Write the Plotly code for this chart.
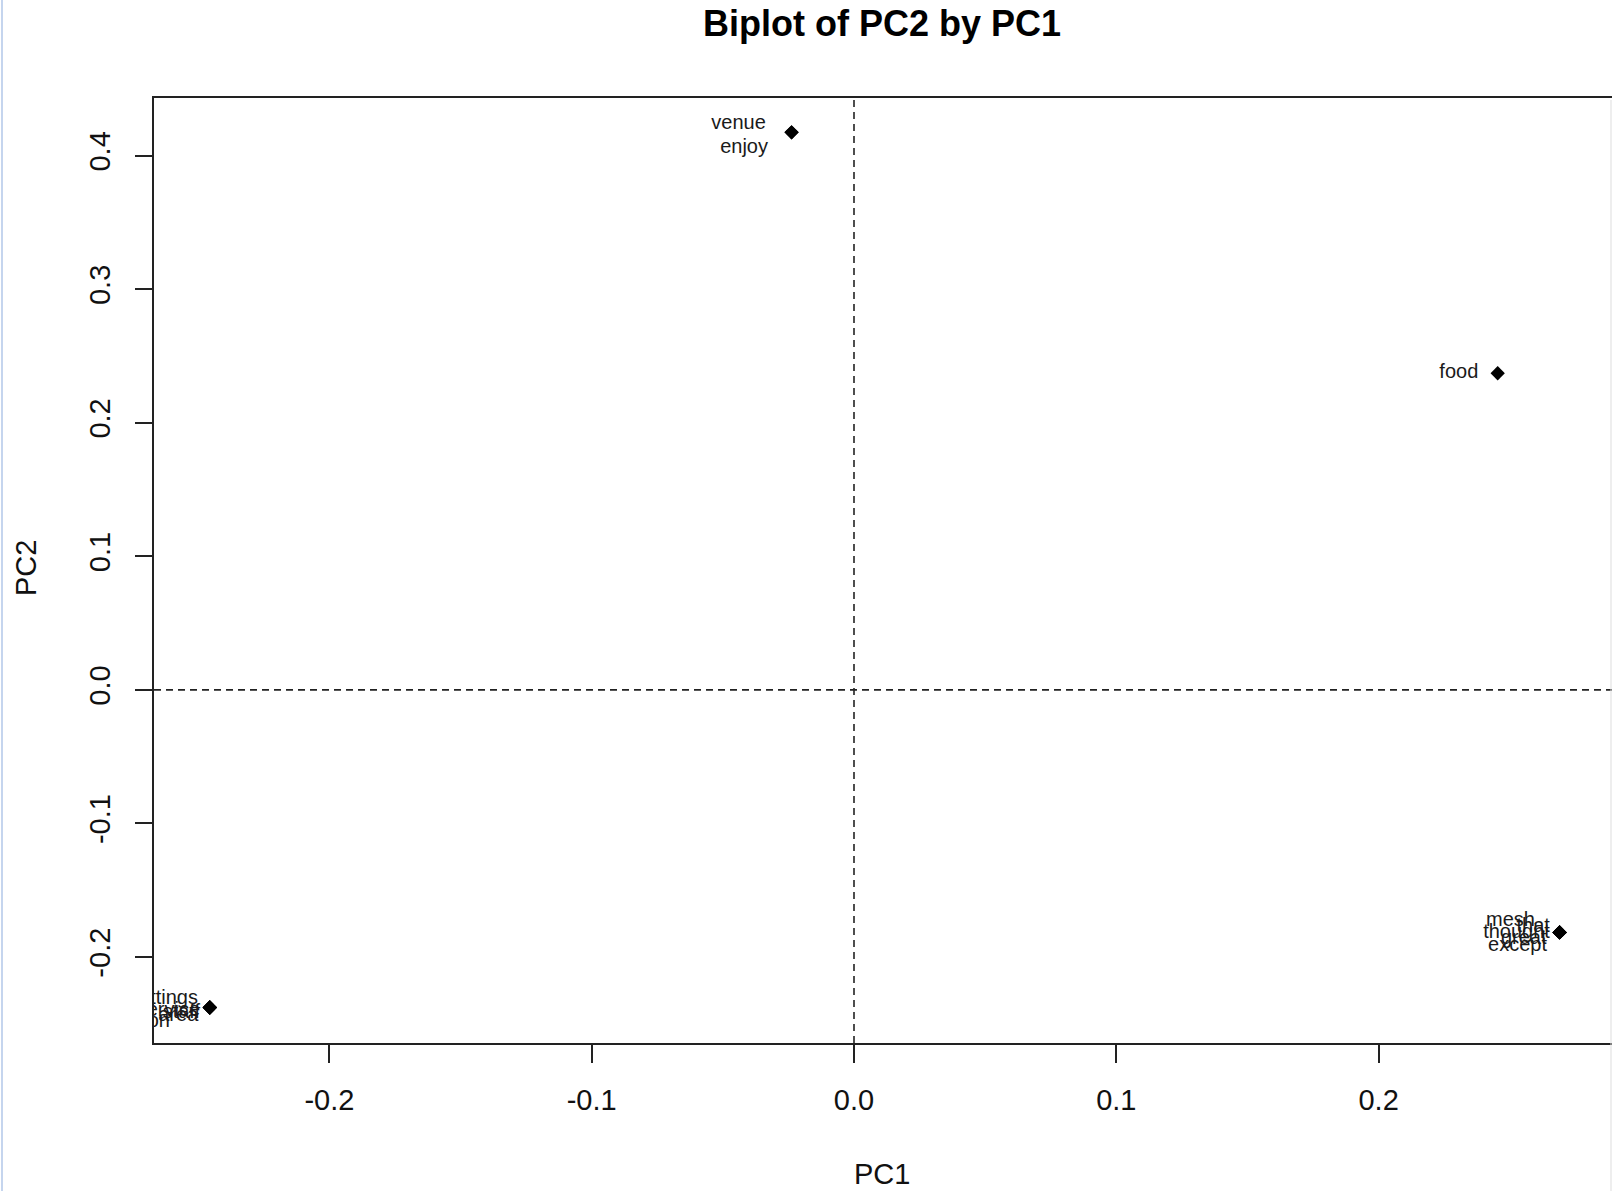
import plotly.graph_objects as go

# ---- data ----
words = ["venue", "enjoy", "food",
         "mesh", "that", "thought", "great", "except",
         "settings", "service", "staff", "area", "location"]
pc1 = [-0.0238, -0.0238, 0.2454,
       0.2690, 0.2690, 0.2690, 0.2690, 0.2690,
       -0.2456, -0.2456, -0.2456, -0.2456, -0.2456]
pc2 = [0.4175, 0.4175, 0.2371,
       -0.1816, -0.1816, -0.1816, -0.1816, -0.1816,
       -0.2378, -0.2378, -0.2378, -0.2378, -0.2378]
# where each label ends (right edge), in data units
label_x = [-0.0336, -0.0328, 0.2380,
           0.2596, 0.2653, 0.2653, 0.2640, 0.2642,
           -0.2501, -0.2493, -0.2493, -0.2500, -0.2608]
label_y = [0.4234, 0.4058, 0.2371,
           -0.1730, -0.1775, -0.1820, -0.1865, -0.1918,
           -0.2315, -0.2405, -0.2420, -0.2440, -0.2487]

x_ticks = [-0.2, -0.1, 0.0, 0.1, 0.2]
y_ticks = [-0.2, -0.1, 0.0, 0.1, 0.2, 0.3, 0.4]
x_range = [-0.26687, 0.28898]
y_range = [-0.2644, 0.4432]

FONT = "Liberation Sans, Arial, sans-serif"
W, H = 1612, 1191
L, R, T, B = 154, 0, 98, 148
pw = W - L - R
ph = H - T - B

def px_x(p):
    return (p - L) / pw

def px_y(p):
    return (H - B - p) / ph

fig = go.Figure()

fig.add_trace(go.Scatter(
    x=label_x, y=label_y, mode="text", text=words,
    textposition="middle left",
    textfont=dict(family=FONT, size=20, color="#1a1a1a"),
    cliponaxis=True, hoverinfo="skip", showlegend=False,
))
fig.add_trace(go.Scatter(
    x=pc1, y=pc2, mode="markers",
    marker=dict(symbol="diamond", size=11, color="black"),
    text=words, showlegend=False,
))

# reference dashed lines at 0
fig.add_shape(type="line", xref="x", yref="paper", x0=0, x1=0, y0=0, y1=1,
              line=dict(color="#222", width=1.6, dash="7px,5px"))
fig.add_shape(type="line", xref="paper", yref="y", x0=0, x1=1, y0=0, y1=0,
              line=dict(color="#222", width=1.6, dash="7px,5px"))

# window borders
fig.add_shape(type="line", xref="paper", yref="paper",
              x0=px_x(2), x1=px_x(2), y0=px_y(0), y1=px_y(H),
              line=dict(color="#c5d5ee", width=2))
fig.add_shape(type="line", xref="paper", yref="paper",
              x0=px_x(1611), x1=px_x(1611), y0=px_y(100), y1=px_y(H),
              line=dict(color="#dddddd", width=1))

fig.update_layout(
    width=W, height=H,
    margin=dict(l=L, r=R, t=T, b=B, pad=0),
    paper_bgcolor="white", plot_bgcolor="white",
    font=dict(family=FONT, color="black"),
    showlegend=False,
)
fig.update_xaxes(
    range=x_range, tickvals=x_ticks, ticktext=[f"{v:.1f}" for v in x_ticks],
    showgrid=False, zeroline=False,
    showline=True, linecolor="#222", linewidth=2, mirror=True,
    ticks="outside", ticklen=18, tickwidth=2, tickcolor="#222",
    tickfont=dict(family=FONT, size=29, color="#111"),
    ticklabelstandoff=12,
)
fig.update_yaxes(
    range=y_range, tickvals=y_ticks, ticktext=[f"{v:.1f}" for v in y_ticks],
    showgrid=False, zeroline=False,
    showline=True, linecolor="#222", linewidth=2, mirror=False,
    ticks="outside", ticklen=17, tickwidth=2, tickcolor="#222",
    tickangle=-90,
    tickfont=dict(family=FONT, size=29, color="#111"),
    ticklabelstandoff=13,
)

fig.add_annotation(text="<b>Biplot of PC2 by PC1</b>", xref="paper", yref="paper",
                   x=px_x(882), y=px_y(24), xanchor="center", yanchor="middle",
                   showarrow=False, font=dict(family=FONT, size=36, color="black"))
fig.add_annotation(text="PC1", xref="paper", yref="paper",
                   x=px_x(882), y=px_y(1174), xanchor="center", yanchor="middle",
                   showarrow=False, font=dict(family=FONT, size=29, color="#111"))
fig.add_annotation(text="PC2", xref="paper", yref="paper",
                   x=px_x(26), y=px_y(568), xanchor="center", yanchor="middle",
                   textangle=-90,
                   showarrow=False, font=dict(family=FONT, size=29, color="#111"))

fig.write_html("out.html", config={"displayModeBar": False},
               post_script="document.body.style.margin='0';document.body.style.overflow='hidden';")
